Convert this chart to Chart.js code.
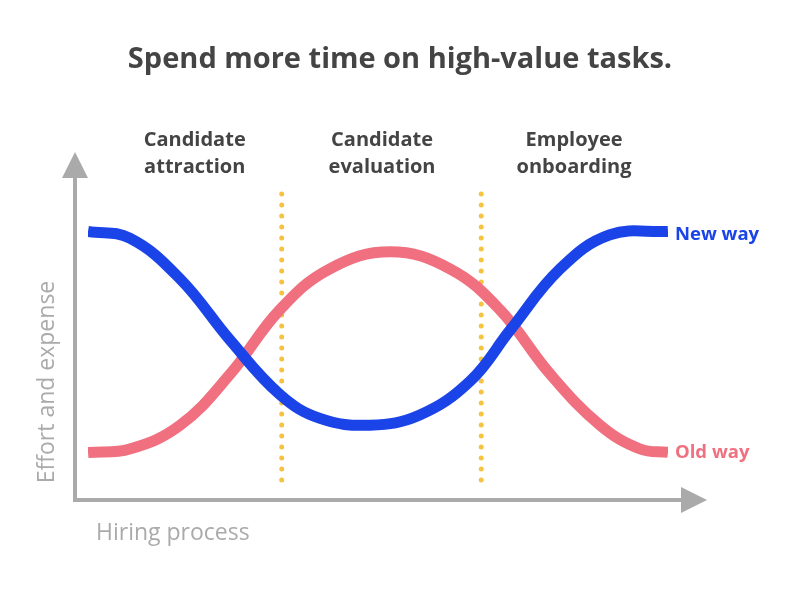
<!DOCTYPE html>
<html>
<head>
<meta charset="utf-8">
<script src="https://cdn.jsdelivr.net/npm/chart.js@4"></script>
<style>body{margin:0;background:#fff}</style>
</head>
<body>
<canvas id="c" width="800" height="600"></canvas>
<script>
// Curves (x: 0-100 along process, y: 0-100 effort)
const newX = [0, 7.2, 15.9, 24.5, 33.1, 40, 48.6, 57.2, 65.9, 72.8, 81.4, 90, 100];
const newY = [79, 77, 65, 47, 31, 24, 22, 25, 35, 50, 68, 78, 79];
const oldX = [0, 7.2, 15.9, 24.5, 33.1, 41.7, 52.1, 62.4, 71, 79.7, 88.3, 95.2, 100];
const oldY = [14, 15, 22, 37, 56, 68, 73, 68, 56, 37, 22, 15, 14];
const dividers = [33.4, 67.8];
const stages = [["Candidate", "attraction"], ["Candidate", "evaluation"], ["Employee", "onboarding"]];
const stageX = [18.4, 50.7, 83.8];

const toPts = (xs, ys) => xs.map((x, i) => ({ x: x, y: ys[i] }));

const decor = {
  id: "decor",
  beforeDatasetsDraw(chart) {
    const ctx = chart.ctx, xs = chart.scales.x, ys = chart.scales.y;
    ctx.save();
    // dotted dividers
    ctx.strokeStyle = "#f5c242";
    ctx.lineWidth = 5;
    ctx.lineCap = "round";
    ctx.setLineDash([0, 11]);
    dividers.forEach(d => {
      const px = xs.getPixelForValue(d);
      ctx.beginPath();
      ctx.moveTo(px, ys.getPixelForValue(90));
      ctx.lineTo(px, ys.getPixelForValue(4));
      ctx.stroke();
    });
    ctx.setLineDash([]);
    // axes
    const ox = 75, oy = ys.getPixelForValue(0);
    ctx.strokeStyle = "#aaa";
    ctx.fillStyle = "#aaa";
    ctx.lineWidth = 4;
    ctx.lineCap = "butt";
    ctx.beginPath();
    ctx.moveTo(ox, oy + 2); ctx.lineTo(ox, 176);
    ctx.moveTo(ox - 2, oy); ctx.lineTo(684, oy);
    ctx.stroke();
    ctx.beginPath();
    ctx.moveTo(ox, 152); ctx.lineTo(ox + 13, 178); ctx.lineTo(ox - 13, 178); ctx.closePath(); ctx.fill();
    ctx.beginPath();
    ctx.moveTo(707, oy); ctx.lineTo(681, oy - 13); ctx.lineTo(681, oy + 13); ctx.closePath(); ctx.fill();
    ctx.restore();
  },
  afterDraw(chart) {
    const ctx = chart.ctx, xs = chart.scales.x, ys = chart.scales.y;
    ctx.save();
    ctx.textAlign = "center";
    ctx.textBaseline = "middle";
    ctx.fillStyle = "#444";
    ctx.font = "bold 29px 'Open Sans'";
    ctx.fillText("Spend more time on high-value tasks.", 400, 60);
    ctx.font = "bold 20px 'Open Sans'";
    stages.forEach((s, i) => {
      const px = xs.getPixelForValue(stageX[i]);
      ctx.fillText(s[0], px, 140);
      ctx.fillText(s[1], px, 167);
    });
    ctx.textAlign = "left";
    ctx.font = "bold 18.5px 'Open Sans'";
    ctx.fillStyle = "#1a44e8";
    ctx.fillText("New way", 675, ys.getPixelForValue(newY[newY.length - 1]) + 3);
    ctx.fillStyle = "#f07080";
    ctx.fillText("Old way", 675, ys.getPixelForValue(oldY[oldY.length - 1]));
    ctx.fillStyle = "#aaa";
    ctx.font = "23px 'Open Sans'";
    ctx.fillText("Hiring process", 96, 533);
    ctx.translate(47, 382);
    ctx.rotate(-Math.PI / 2);
    ctx.textAlign = "center";
    ctx.fillText("Effort and expense", 0, 0);
    ctx.restore();
  }
};

new Chart(document.getElementById("c"), {
  type: "line",
  data: {
    datasets: [
      { label: "New way", data: toPts(newX, newY), borderColor: "#1a44e8", borderWidth: 11, pointRadius: 0, tension: 0.4 },
      { label: "Old way", data: toPts(oldX, oldY), borderColor: "#f07080", borderWidth: 11, pointRadius: 0, tension: 0.4 }
    ]
  },
  options: {
    responsive: false,
    animation: false,
    layout: { padding: { left: 88, right: 132, top: 160, bottom: 100 } },
    plugins: { legend: { display: false }, tooltip: { enabled: false } },
    scales: {
      x: { type: "linear", min: 0, max: 100, display: false },
      y: { min: 0, max: 100, display: false }
    }
  },
  plugins: [decor]
});
</script>
</body>
</html>
